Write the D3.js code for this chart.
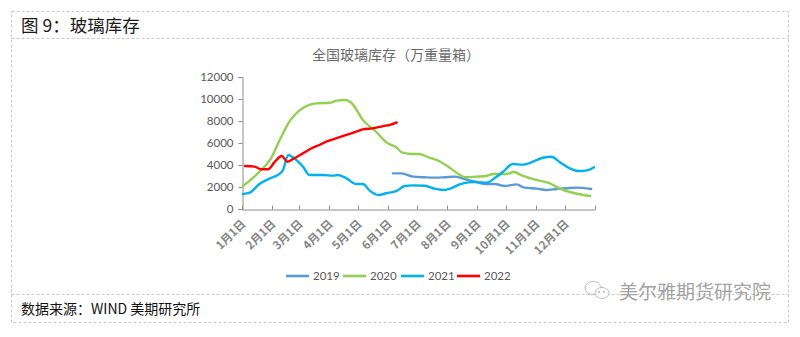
<!DOCTYPE html>
<html>
<head>
<meta charset="utf-8">
<script src="https://cdn.jsdelivr.net/npm/d3@7"></script>
<style>
  html, body { margin: 0; padding: 0; background: #fff; }
  svg { display: block; }
</style>
</head>
<body>
<svg id="chart" width="800" height="337"></svg>
<script>
// National float-glass inventory, 10k weight cases, one line per year on a shared Jan–Dec axis
const years = ["2019", "2020", "2021", "2022"];
const colors = ["#5B9BD5", "#92D050", "#00B0F0", "#FF0000"];
const yTicks = [0, 2000, 4000, 6000, 8000, 10000, 12000];

const series2019 = [
  ["06-06", 3240], ["06-15", 3240], ["06-27", 2940], ["07-09", 2880], ["07-19", 2850],
  ["07-29", 2880], ["08-09", 2940], ["08-19", 2730], ["08-30", 2480], ["09-09", 2270],
  ["09-19", 2270], ["09-30", 2090], ["10-12", 2240], ["10-19", 1970], ["11-02", 1850],
  ["11-12", 1730], ["11-22", 1820], ["12-02", 1880], ["12-13", 1940], ["12-28", 1820]
];
const series2020 = [
  ["01-02", 2090], ["01-19", 3390], ["01-31", 4600], ["02-09", 6270], ["02-19", 7940],
  ["03-05", 9180], ["03-19", 9600], ["04-02", 9660], ["04-09", 9850], ["04-17", 9910],
  ["04-24", 9660], ["05-06", 8090], ["05-20", 7000], ["05-30", 6080], ["06-09", 5630],
  ["06-16", 5120], ["06-26", 5000], ["07-03", 5000], ["07-13", 4700], ["07-23", 4390],
  ["08-03", 3790], ["08-13", 3180], ["08-20", 2880], ["08-31", 2940], ["09-10", 3000],
  ["09-18", 3180], ["10-01", 3180], ["10-09", 3360], ["10-18", 3030], ["11-01", 2640],
  ["11-15", 2340], ["11-25", 1880], ["12-09", 1480], ["12-27", 1180]
];
const series2021 = [
  ["01-02", 1360], ["01-09", 1480], ["01-19", 2270], ["01-30", 2790], ["02-07", 3090],
  ["02-12", 3480], ["02-18", 4910], ["02-24", 4610], ["03-05", 3850], ["03-12", 3090],
  ["03-26", 3090], ["04-05", 3030], ["04-10", 3090], ["04-19", 2790], ["04-29", 2270],
  ["05-06", 2270], ["05-13", 1670], ["05-22", 1270], ["05-30", 1430], ["06-10", 1640],
  ["06-18", 2090], ["06-27", 2150], ["07-09", 2120], ["07-19", 1850], ["07-29", 1730],
  ["08-05", 1880], ["08-14", 2240], ["08-23", 2420], ["08-31", 2450], ["09-11", 2390],
  ["09-19", 2790], ["09-28", 3390], ["10-08", 4090], ["10-18", 4030], ["10-29", 4300],
  ["11-08", 4660], ["11-17", 4750], ["11-25", 4300], ["12-06", 3700], ["12-16", 3450],
  ["12-25", 3540], ["12-31", 3790]
];
const series2022 = [
  ["01-04", 3910], ["01-14", 3850], ["01-21", 3610], ["01-28", 3610], ["02-04", 4300],
  ["02-11", 4820], ["02-17", 4300], ["02-24", 4610], ["03-05", 5060], ["03-14", 5520],
  ["03-22", 5820], ["03-29", 6120], ["04-08", 6420], ["04-19", 6730], ["04-29", 7030],
  ["05-06", 7240], ["05-16", 7330], ["05-27", 7540], ["06-03", 7640], ["06-10", 7870]
];
const allSeries = [series2019, series2020, series2021, series2022];

const svg = d3.select("#chart");
const cjk = '"Noto Sans CJK SC", "Noto Sans", sans-serif';
const num = 'Lato, "Noto Sans CJK SC", sans-serif';

// frame with dashed borders and section separators
const frame = svg.append("g")
  .attr("fill", "none").attr("stroke", "#c9c9c9").attr("stroke-width", 1)
  .attr("stroke-dasharray", "3,2");
frame.append("rect").attr("x", 11.5).attr("y", 11.5).attr("width", 777).attr("height", 311);
frame.append("line").attr("x1", 11.5).attr("x2", 788.5).attr("y1", 38.5).attr("y2", 38.5);
frame.append("line").attr("x1", 11.5).attr("x2", 788.5).attr("y1", 294.5).attr("y2", 294.5);

svg.append("text").attr("x", 21).attr("y", 32)
  .attr("font-family", cjk).attr("font-size", 17.5).attr("fill", "#1a1a1a")
  .text("图 9：玻璃库存");

svg.append("text").attr("x", 21).attr("y", 314)
  .attr("font-family", cjk).attr("font-size", 14).attr("fill", "#111")
  .text("数据来源：WIND  美期研究所");

// chart title
svg.append("text").attr("x", 396).attr("y", 60).attr("text-anchor", "middle")
  .attr("font-family", cjk).attr("font-size", 14).attr("fill", "#6b6b6b")
  .text("全国玻璃库存（万重量箱）");

const parse = d3.timeParse("%Y-%m-%d");
const dateOf = s => parse("2022-" + s);

const x = d3.scaleTime()
  .domain([new Date(2022, 0, 1), new Date(2023, 0, 1)])
  .range([242, 595]);
const y = d3.scaleLinear().domain([0, 12000]).range([209, 77]);

// y axis
const yAxis = svg.append("g").attr("transform", "translate(242.5,0)")
  .call(d3.axisLeft(y).tickValues(yTicks).tickSize(4).tickPadding(5).tickFormat(d3.format("d")));
yAxis.selectAll("path, line").attr("stroke", "#8c8c8c");
yAxis.selectAll("text").attr("font-family", num).attr("font-size", 11.5).attr("fill", "#595959");

// x axis: monthly ticks pointing inward, rotated labels
const monthTicks = d3.timeMonth.range(new Date(2022, 0, 1), new Date(2023, 0, 2));
const fmt = d3.timeFormat("%-m月%-d日");
const xAxis = svg.append("g").attr("transform", "translate(0,209.5)")
  .call(d3.axisBottom(x).tickValues(monthTicks).tickSizeInner(-4).tickSizeOuter(0)
    .tickFormat(d => d.getFullYear() === 2022 ? fmt(d) : ""));
xAxis.selectAll("path, line").attr("stroke", "#8c8c8c");
xAxis.selectAll("text")
  .attr("font-family", cjk).attr("font-size", 11.5).attr("font-weight", "bold").attr("fill", "#858585")
  .attr("text-anchor", "end")
  .attr("dy", null).attr("y", 0)
  .attr("transform", "translate(4,15) rotate(-45)");

// lines
const line = d3.line()
  .x(d => x(dateOf(d[0])))
  .y(d => y(d[1]))
  .curve(d3.curveMonotoneX);

svg.append("g").selectAll("path").data(allSeries).join("path")
  .attr("d", line)
  .attr("fill", "none")
  .attr("stroke", (d, i) => colors[i])
  .attr("stroke-width", 2.4)
  .attr("stroke-linejoin", "round")
  .attr("stroke-linecap", "round");

// legend
const legendX = [286, 343, 401, 457];
const legend = svg.append("g").selectAll("g").data(years).join("g")
  .attr("transform", (d, i) => `translate(${legendX[i]},276)`);
legend.append("line").attr("x1", 0).attr("x2", 23).attr("y1", 0).attr("y2", 0)
  .attr("stroke", (d, i) => colors[i]).attr("stroke-width", 2.6);
legend.append("text").attr("x", 27).attr("y", 4)
  .attr("font-family", num).attr("font-size", 11.5).attr("fill", "#595959")
  .text(d => d);

// watermark with chat-bubble icon
const wm = svg.append("g").attr("fill", "none").attr("stroke", "#bdbdbd").attr("stroke-width", 1);
wm.append("ellipse").attr("cx", 593).attr("cy", 288).attr("rx", 8).attr("ry", 6.5).attr("fill", "#fff");
wm.append("ellipse").attr("cx", 602).attr("cy", 293).attr("rx", 7).attr("ry", 5.5).attr("fill", "#fff");
[[599, 292], [604, 292]].forEach(p =>
  wm.append("circle").attr("cx", p[0]).attr("cy", p[1]).attr("r", 0.9).attr("fill", "#aaa").attr("stroke", "none"));
svg.append("text").attr("x", 619).attr("y", 299)
  .attr("font-family", cjk).attr("font-size", 19).attr("fill", "#a3a3a3")
  .text("美尔雅期货研究院");
</script>
</body>
</html>
